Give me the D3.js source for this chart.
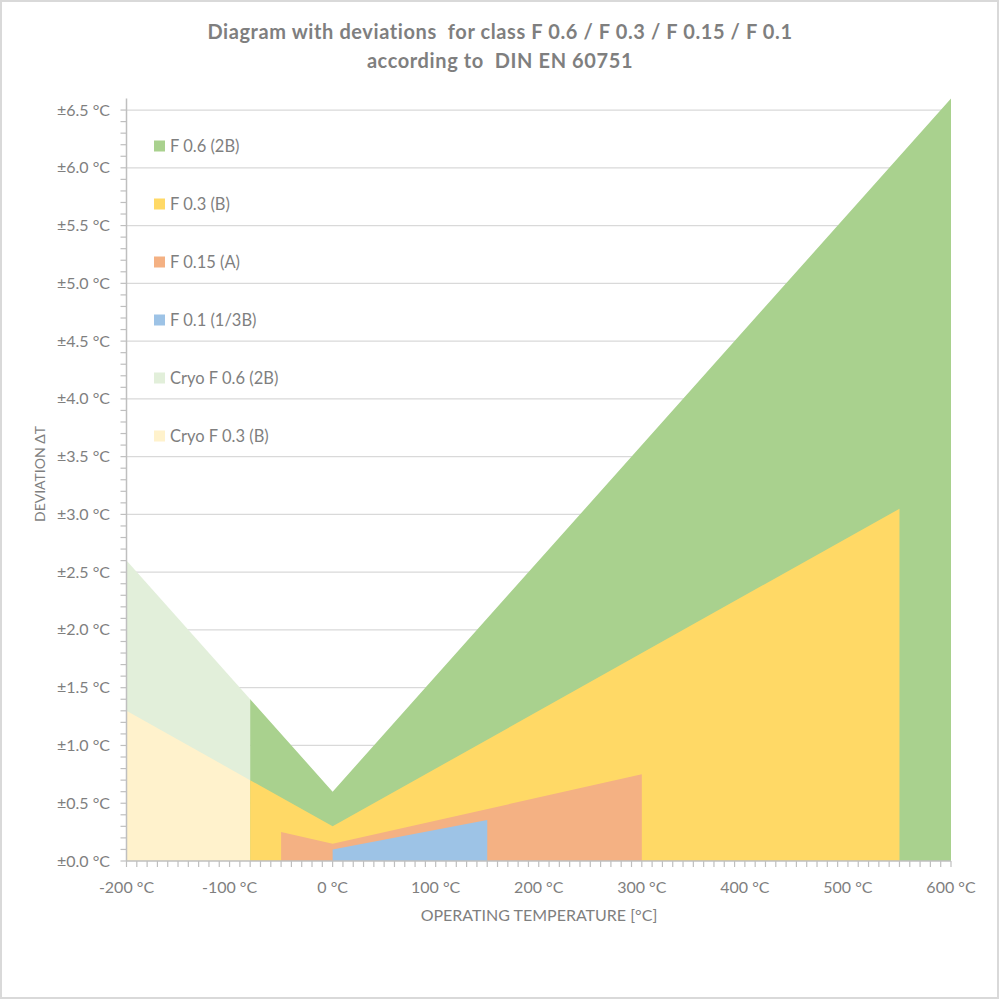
<!DOCTYPE html>
<html><head><meta charset="utf-8">
<script src="https://cdn.jsdelivr.net/npm/d3@7"></script>
<style>body{margin:0;background:#fff}svg{display:block}text{font-family:Lato,"Open Sans",sans-serif}</style>
</head><body><svg id="c" width="1000" height="1000"></svg>
<script>
// ---- data ----
const seriesNames = ["F 0.6 (2B)", "F 0.3 (B)", "F 0.15 (A)", "F 0.1 (1/3B)", "Cryo F 0.6 (2B)", "Cryo F 0.3 (B)"];
const seriesColors = ["#a9d18e", "#ffd966", "#f4b183", "#9dc3e6", "#e2efda", "#fff2cc"];
const f06Temps = [-80, 0, 600];
const f06Values = [1.4, 0.6, 6.6];
const f03Temps = [-80, 0, 550];
const f03Values = [0.7, 0.3, 3.05];
const f015Temps = [-50, 0, 300];
const f015Values = [0.25, 0.15, 0.75];
const f01Temps = [0, 150];
const f01Values = [0.1, 0.355];
const cryo06Temps = [-200, -80];
const cryo06Values = [2.6, 1.4];
const cryo03Temps = [-200, -80];
const cryo03Values = [1.3, 0.7];
const xTickValues = [-200, -100, 0, 100, 200, 300, 400, 500, 600];
const yTickValues = [0, 0.5, 1, 1.5, 2, 2.5, 3, 3.5, 4, 4.5, 5, 5.5, 6, 6.5];
const titleLines = ["Diagram with deviations  for class F 0.6 / F 0.3 / F 0.15 / F 0.1", "according to  DIN EN 60751"];
const xTitle = "OPERATING TEMPERATURE [°C]";
const yTitle = "DEVIATION ΔT";

const svg = d3.select("#c");
const gray = "#7f7f7f";
svg.append("rect").attr("x",1).attr("y",1).attr("width",997).attr("height",997)
  .attr("fill","#fff").attr("stroke","#d9d9d9").attr("stroke-width",2);

const x = d3.scaleLinear().domain([-200, 600]).range([126.5, 951]);
const y = d3.scaleLinear().domain([0, 6.6]).range([861, 98.5]);

// gridlines
svg.append("g").selectAll("line").data(yTickValues.filter(v => v > 0)).join("line")
  .attr("x1", x(-200)).attr("x2", x(600)).attr("y1", d => y(d)).attr("y2", d => y(d))
  .attr("stroke", "#d9d9d9").attr("stroke-width", 1.3);

// areas (drawn back to front)
const seriesData = [
  [cryo06Temps, cryo06Values, 4],
  [cryo03Temps, cryo03Values, 5],
  [f06Temps, f06Values, 0],
  [f03Temps, f03Values, 1],
  [f015Temps, f015Values, 2],
  [f01Temps, f01Values, 3]
];
const area = d3.area().x(d => x(d[0])).y0(y(0)).y1(d => y(d[1]));
seriesData.forEach(([ts, vs, ci]) => {
  svg.append("path").datum(ts.map((t, i) => [t, vs[i]]))
    .attr("d", area).attr("fill", seriesColors[ci]);
});

// axes
const axisColor = "#bfbfbf";
const xMinor = d3.range(-200, 601, 10);
const yMinor = d3.range(0, 66, 1).map(v => v / 10);
const gx = svg.append("g");
gx.append("line").attr("x1", x(-200)).attr("x2", x(600)).attr("y1", y(0)).attr("y2", y(0))
  .attr("stroke", axisColor).attr("stroke-width", 1.5);
gx.selectAll("line.t").data(xMinor).join("line").attr("class","t")
  .attr("x1", d => x(d)).attr("x2", d => x(d)).attr("y1", y(0)).attr("y2", y(0) + 6)
  .attr("stroke", axisColor).attr("stroke-width", 1.2);
gx.selectAll("text").data(xTickValues).join("text")
  .attr("x", d => x(d)).attr("y", 893).attr("text-anchor", "middle")
  .attr("fill", gray).attr("font-size", 16).text(d => d + " °C");

const gy = svg.append("g");
gy.append("line").attr("x1", x(-200)).attr("x2", x(-200)).attr("y1", y(0)).attr("y2", y(6.6))
  .attr("stroke", axisColor).attr("stroke-width", 1.5);
gy.selectAll("line.t").data(yMinor).join("line").attr("class","t")
  .attr("x1", x(-200) - 6).attr("x2", x(-200)).attr("y1", d => y(d)).attr("y2", d => y(d))
  .attr("stroke", axisColor).attr("stroke-width", 1.2);
gy.selectAll("text").data(yTickValues).join("text")
  .attr("x", 110).attr("y", d => y(d) + 5.5).attr("text-anchor", "end")
  .attr("fill", gray).attr("font-size", 16).text(d => "±" + d.toFixed(1) + " °C");

// titles
svg.append("g").selectAll("text").data(titleLines).join("text")
  .attr("x", 500).attr("y", (d, i) => 39 + i * 29).attr("text-anchor", "middle")
  .attr("fill", gray).attr("font-size", 20).attr("font-weight", "bold").attr("letter-spacing", 0.6)
  .attr("xml:space", "preserve").style("white-space", "pre").text(d => d);
svg.append("text").attr("x", 539).attr("y", 921).attr("text-anchor", "middle")
  .attr("fill", gray).attr("font-size", 16).text(xTitle);
svg.append("text").attr("transform", "translate(45,474) rotate(-90)").attr("text-anchor", "middle")
  .attr("fill", gray).attr("font-size", 14).text(yTitle);

// legend
const lg = svg.append("g").selectAll("g").data(seriesNames).join("g")
  .attr("transform", (d, i) => `translate(154,${146 + i * 58})`);
lg.append("rect").attr("x", 0).attr("y", -5.5).attr("width", 11).attr("height", 11)
  .attr("fill", (d, i) => seriesColors[i]);
lg.append("text").attr("x", 16).attr("y", 6).attr("fill", gray).attr("font-size", 16.5).text(d => d);
</script></body></html>
